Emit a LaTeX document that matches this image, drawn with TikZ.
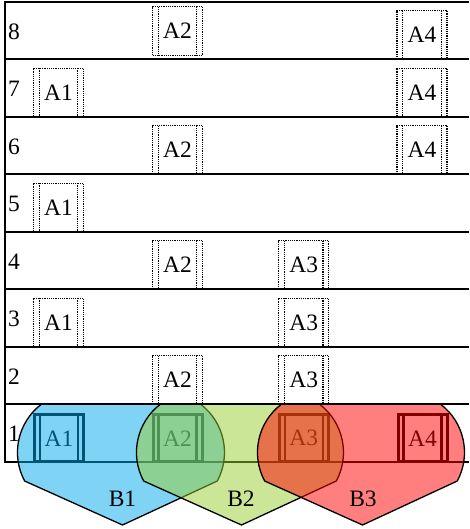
\documentclass[tikz,border=0pt]{standalone}
\usepackage{fontspec}
\setmainfont{Liberation Serif}
\definecolor{bblue}{RGB}{0,170,237}
\definecolor{bgreen}{RGB}{154,205,50}
\definecolor{bred}{RGB}{255,0,0}
\newcommand\txtfont{\fontsize{23.5}{26}\selectfont}
\newcommand\bshapepath[1]{({#1-79.7},124.7) arc[start angle=127.3, end angle=208.2, radius=60.5pt] -- ({#1+1.5},4) -- ({#1+96.3},48) arc[start angle=-28.2, end angle=52.7, radius=60.5pt]}
\tikzset{
  gridline/.style={line width=1.8pt},
  lbl/.style={anchor=base west, inner sep=0pt, font=\txtfont},
  blbl/.style={anchor=base, inner sep=0pt, font=\txtfont},
  pbox/.style={draw, rectangle, dash pattern=on 1.2pt off 1pt, line width=1.2pt,
    minimum width=50pt, minimum height=48.5pt, inner sep=0pt, font=\txtfont,
    path picture={\draw[dash pattern=on 1.2pt off 1pt, line width=1.2pt]
      ([xshift=5.8pt]path picture bounding box.north west) -- ([xshift=5.8pt]path picture bounding box.south west)
      ([xshift=-5.8pt]path picture bounding box.north east) -- ([xshift=-5.8pt]path picture bounding box.south east);}},
  sbox/.style={draw, rectangle, line width=3pt,
    minimum width=49pt, minimum height=47pt, inner sep=0pt, font=\txtfont,
    path picture={\draw[line width=2.2pt]
      ([xshift=5.5pt]path picture bounding box.north west) -- ([xshift=5.5pt]path picture bounding box.south west)
      ([xshift=-5.5pt]path picture bounding box.north east) -- ([xshift=-5.5pt]path picture bounding box.south east);}},
  region/.style={fill opacity=0.5},
  regionedge/.style={line width=1.3pt, line join=round}
}
\begin{document}
\begin{tikzpicture}[x=1pt,y=1pt]
\useasboundingbox (0,0) rectangle (469,529);
% grid
\draw[gridline] (469,527.3) -- (5,527.3) -- (5,67.3) -- (469,67.3);
\foreach \yy in {469.8,412.3,354.8,297.3,239.8,182.3,124.8}
  \draw[gridline] (5,\yy) -- (469,\yy);
% row labels
\node[lbl] (l8) at (8,489.8) {8};
\node[lbl] (l7) at (8,432.3) {7};
\node[lbl] (l6) at (8,374.8) {6};
\node[lbl] (l5) at (8,317.3) {5};
\node[lbl] (l4) at (8,259.8) {4};
\node[lbl] (l3) at (8,202.3) {3};
\node[lbl] (l2) at (8,144.8) {2};
\node[lbl] (l1) at (8,87.3) {1};
% dotted boxes
\node[pbox] (r8a2) at (177.5,498) {A2};
\node[pbox] (r8a4) at (422,494.05) {A4};
\node[pbox] (r7a1) at (58.5,436.55) {A1};
\node[pbox] (r7a4) at (422,436.55) {A4};
\node[pbox] (r6a2) at (177.5,379.05) {A2};
\node[pbox] (r6a4) at (422,379.05) {A4};
\node[pbox] (r5a1) at (58.5,321.55) {A1};
\node[pbox] (r4a2) at (177.5,264.05) {A2};
\node[pbox] (r4a3) at (303.8,264.05) {A3};
\node[pbox] (r3a1) at (58.5,206.55) {A1};
\node[pbox] (r3a3) at (303.8,206.55) {A3};
\node[pbox] (r2a2) at (177.5,149.05) {A2};
\node[pbox] (r2a3) at (303.8,149.05) {A3};
% solid boxes in row 1
\node[sbox] (r1a1) at (59,90.7) {A1};
\node[sbox] (r1a2) at (177.5,90.7) {A2};
\node[sbox] (r1a3) at (303.8,90.7) {A3};
\node[sbox] (r1a4) at (422.5,90.7) {A4};
% regions
\fill[bblue,region] \bshapepath{121} -- cycle;
\draw[regionedge] \bshapepath{121};
\fill[bgreen,region] \bshapepath{240} -- cycle;
\draw[regionedge] \bshapepath{240};
\fill[bred,region] \bshapepath{361} -- cycle;
\draw[regionedge] \bshapepath{361};
\draw[gridline] (5,124.8) -- (469,124.8);
\node[blbl] (b1) at (122.5,22.5) {B1};
\node[blbl] (b2) at (241,22.5) {B2};
\node[blbl] (b3) at (363,22.5) {B3};
\end{tikzpicture}
\end{document}
